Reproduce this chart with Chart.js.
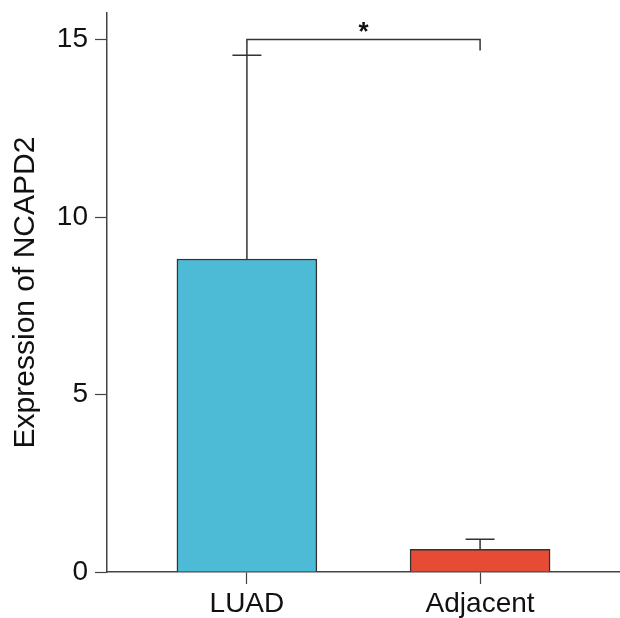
<!DOCTYPE html>
<html>
<head>
<meta charset="utf-8">
<script src="https://cdn.jsdelivr.net/npm/chart.js@4.4.1/dist/chart.umd.min.js"></script>
<style>
  html, body { margin: 0; padding: 0; background: #fff; }
  canvas { display: block; }
</style>
</head>
<body>
<canvas id="ncapd2-chart" width="620" height="618"></canvas>
<script>
// values
var groups = ["LUAD", "Adjacent"];
var groupPos = [1, 2];
var means = [8.82, 0.64];
var errTop = [14.56, 0.92];   // mean + error
var barColors = ["#4DBBD5", "#E64B35"];
var yTicks = [0, 5, 10, 15];
var sigLevel = 15;
var sigLabel = "*";

(function () {
    var canvas = document.getElementById("ncapd2-chart");
    var font = "'Liberation Sans', Arial, sans-serif";
    var axisColor = "#444";

    // error bars + significance bracket
    var annotations = {
        id: "annotations",
        afterDatasetsDraw: function (chart) {
            var ctx = chart.ctx,
                x = chart.scales.x,
                y = chart.scales.y;

            ctx.save();
            ctx.strokeStyle = "#333";
            ctx.lineWidth = 1.5;

            for (var i = 0; i < groups.length; i++) {
                var px = x.getPixelForValue(groupPos[i]);
                var top = y.getPixelForValue(errTop[i]);
                ctx.beginPath();
                ctx.moveTo(px, y.getPixelForValue(means[i]));
                ctx.lineTo(px, top);
                ctx.moveTo(px - 14.5, top);
                ctx.lineTo(px + 14.5, top);
                ctx.stroke();
            }

            var x1 = x.getPixelForValue(groupPos[0]),
                x2 = x.getPixelForValue(groupPos[1]),
                yb = y.getPixelForValue(sigLevel);
            ctx.beginPath();
            ctx.moveTo(x1, yb + 16);
            ctx.lineTo(x1, yb);
            ctx.lineTo(x2, yb);
            ctx.lineTo(x2, yb + 11);
            ctx.stroke();

            ctx.fillStyle = "#111";
            ctx.font = "bold 26px " + font;
            ctx.textAlign = "center";
            ctx.textBaseline = "alphabetic";
            ctx.fillText(sigLabel, (x1 + x2) / 2, yb);
            ctx.restore();
        }
    };

    new Chart(canvas, {
        type: "bar",
        data: {
            datasets: [
                {
                    data: groups.map(function (g, i) {
                        return { x: groupPos[i], y: means[i] };
                    }),
                    backgroundColor: barColors,
                    borderColor: "#333",
                    borderWidth: 1.5,
                    barThickness: 140
                }
            ]
        },
        options: {
            responsive: false,
            animation: false,
            devicePixelRatio: 1,
            layout: { padding: { top: 13, left: 0, right: 0, bottom: 0 } },
            plugins: {
                legend: { display: false },
                tooltip: { enabled: false }
            },
            scales: {
                x: {
                    type: "linear",
                    min: 0.4,
                    max: 2.6,
                    offset: false,
                    afterBuildTicks: function (scale) {
                        scale.ticks = groupPos.map(function (v) { return { value: v }; });
                    },
                    afterFit: function (scale) {
                        scale.height = 46;
                        scale.paddingLeft = 0;
                        scale.paddingRight = 0;
                    },
                    ticks: {
                        callback: function (v) { return groups[groupPos.indexOf(v)]; },
                        color: "#111",
                        font: { family: font, size: 28 },
                        padding: 3,
                        maxRotation: 0
                    },
                    grid: {
                        offset: false,
                        drawOnChartArea: false,
                        drawTicks: true,
                        tickLength: 12,
                        tickColor: axisColor,
                        tickWidth: 1.2
                    },
                    border: { display: true, color: axisColor, width: 1.5 }
                },
                y: {
                    min: 0,
                    max: 15.75,
                    afterBuildTicks: function (scale) {
                        scale.ticks = yTicks.map(function (v) { return { value: v }; });
                    },
                    afterFit: function (scale) {
                        scale.width = 107;
                        scale.paddingTop = 0;
                        scale.paddingBottom = 0;
                    },
                    ticks: {
                        color: "#111",
                        font: { family: font, size: 28 },
                        padding: 7
                    },
                    grid: {
                        drawOnChartArea: false,
                        drawTicks: true,
                        tickLength: 12,
                        tickColor: axisColor,
                        tickWidth: 1.2
                    },
                    border: { display: true, color: axisColor, width: 1.5 },
                    title: {
                        display: true,
                        text: "Expression of NCAPD2",
                        color: "#111",
                        font: { family: font, size: 30 },
                        padding: { top: 8, bottom: 0 }
                    }
                }
            }
        },
        plugins: [annotations]
    });
})();
</script>
</body>
</html>
